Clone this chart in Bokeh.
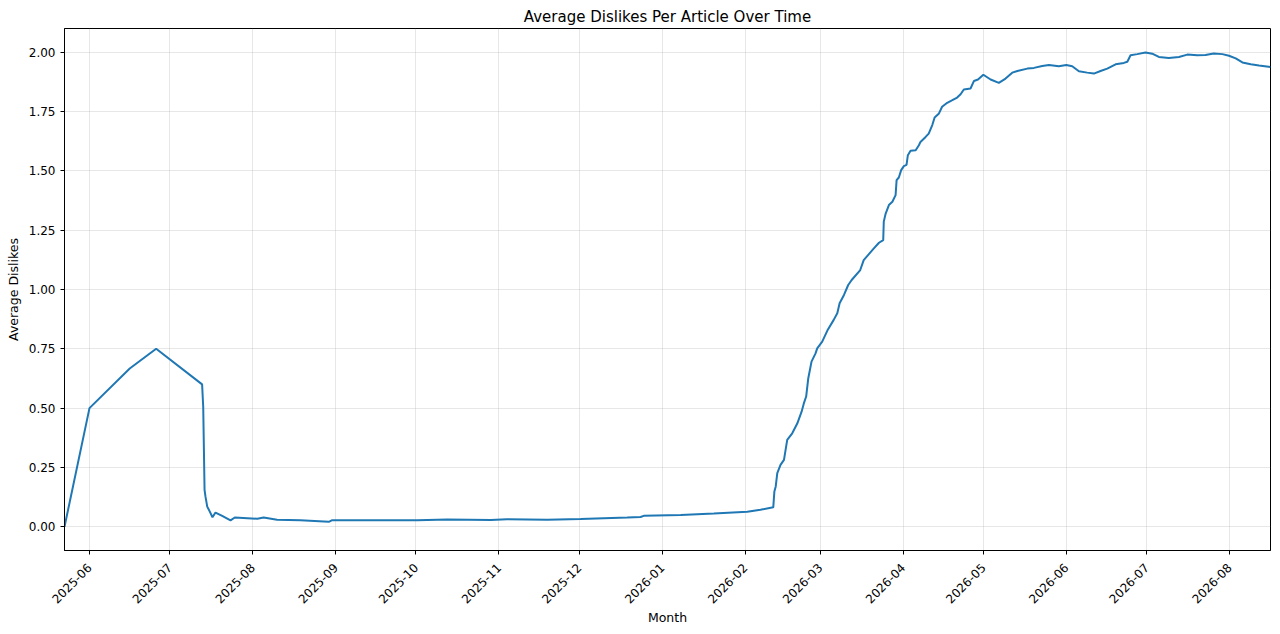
import math
import pandas as pd
from bokeh.plotting import figure
from bokeh.models import FixedTicker, NumeralTickFormatter, DatetimeTickFormatter, Range1d
from bokeh.embed import file_html
from bokeh.resources import INLINE

# ---- data ----
dates = [
    "2025-05-22 16:00", "2025-06-01 00:00", "2025-06-16 01:00", "2025-06-25 22:00",
    "2025-07-13 02:00", "2025-07-13 12:00", "2025-07-14 00:00", "2025-07-14 08:00",
    "2025-07-15 00:00", "2025-07-15 23:00", "2025-07-16 23:00", "2025-07-18 02:00",
    "2025-07-20 14:00", "2025-07-23 17:00", "2025-07-25 07:00", "2025-08-02 17:00",
    "2025-08-05 02:00", "2025-08-10 02:00", "2025-08-18 19:00", "2025-08-29 10:00",
    "2025-08-30 17:00", "2025-09-09 00:00", "2025-09-19 00:00", "2025-10-01 12:00",
    "2025-10-12 17:00", "2025-10-28 22:00", "2025-11-04 00:00", "2025-11-19 00:00",
    "2025-12-01 12:00", "2025-12-18 22:00", "2025-12-23 22:00", "2025-12-25 02:00",
    "2026-01-07 22:00", "2026-01-20 07:00", "2026-02-01 19:00", "2026-02-06 17:00",
    "2026-02-11 12:00", "2026-02-11 22:00", "2026-02-12 10:00", "2026-02-13 00:00",
    "2026-02-14 05:00", "2026-02-15 12:00", "2026-02-16 17:00", "2026-02-18 14:00",
    "2026-02-20 12:00", "2026-02-22 02:00", "2026-02-22 22:00", "2026-02-23 19:00",
    "2026-02-24 14:00", "2026-02-25 19:00", "2026-02-27 07:00", "2026-02-27 22:00",
    "2026-03-01 19:00", "2026-03-03 17:00", "2026-03-06 02:00", "2026-03-07 10:00",
    "2026-03-08 07:00", "2026-03-09 22:00", "2026-03-11 12:00", "2026-03-12 19:00",
    "2026-03-16 00:00", "2026-03-17 07:00", "2026-03-18 14:00", "2026-03-21 02:00",
    "2026-03-23 00:00", "2026-03-24 14:00", "2026-03-24 19:00", "2026-03-25 12:00",
    "2026-03-26 17:00", "2026-03-28 00:00", "2026-03-29 05:00", "2026-03-29 14:00",
    "2026-03-30 10:00", "2026-03-31 07:00", "2026-04-01 07:00", "2026-04-02 07:00",
    "2026-04-02 19:00", "2026-04-03 19:00", "2026-04-05 17:00", "2026-04-06 22:00",
    "2026-04-07 12:00", "2026-04-09 10:00", "2026-04-10 14:00", "2026-04-11 22:00",
    "2026-04-12 19:00", "2026-04-14 10:00", "2026-04-15 14:00", "2026-04-17 12:00",
    "2026-04-19 10:00", "2026-04-21 05:00", "2026-04-22 12:00", "2026-04-23 17:00",
    "2026-04-26 05:00", "2026-04-27 12:00", "2026-04-29 00:00", "2026-05-01 00:00",
    "2026-05-03 17:00", "2026-05-06 19:00", "2026-05-09 07:00", "2026-05-11 19:00",
    "2026-05-13 17:00", "2026-05-17 10:00", "2026-05-19 22:00", "2026-05-23 00:00",
    "2026-05-25 12:00", "2026-05-29 05:00", "2026-06-01 00:00", "2026-06-03 05:00",
    "2026-06-05 17:00", "2026-06-08 19:00", "2026-06-11 07:00", "2026-06-13 19:00",
    "2026-06-16 07:00", "2026-06-19 10:00", "2026-06-22 12:00", "2026-06-23 19:00",
    "2026-06-25 00:00", "2026-06-27 12:00", "2026-06-30 14:00", "2026-07-03 02:00",
    "2026-07-05 14:00", "2026-07-09 07:00", "2026-07-13 02:00", "2026-07-16 05:00",
    "2026-07-19 22:00", "2026-07-23 00:00", "2026-07-26 02:00", "2026-07-29 07:00",
    "2026-07-31 19:00", "2026-08-03 07:00", "2026-08-05 19:00", "2026-08-08 22:00",
    "2026-08-12 00:00", "2026-08-16 07:00",
]
avg_dislikes = [
    0.000, 0.500, 0.667, 0.750,
    0.600, 0.505, 0.156, 0.128,
    0.085, 0.064, 0.040, 0.060,
    0.046, 0.027, 0.039, 0.034,
    0.039, 0.030, 0.027, 0.021,
    0.028, 0.027, 0.028, 0.027,
    0.031, 0.029, 0.032, 0.030,
    0.033, 0.039, 0.041, 0.046,
    0.050, 0.056, 0.063, 0.072,
    0.082, 0.149, 0.170, 0.226,
    0.261, 0.282, 0.366, 0.394,
    0.436, 0.485, 0.520, 0.549,
    0.626, 0.696, 0.731, 0.752,
    0.780, 0.827, 0.872, 0.900,
    0.942, 0.977, 1.019, 1.040,
    1.082, 1.124, 1.141, 1.173,
    1.197, 1.208, 1.286, 1.320,
    1.356, 1.370, 1.398, 1.461,
    1.472, 1.503, 1.520, 1.525,
    1.566, 1.585, 1.587, 1.608,
    1.622, 1.643, 1.657, 1.693,
    1.725, 1.742, 1.770, 1.787,
    1.798, 1.809, 1.823, 1.843,
    1.847, 1.879, 1.885, 1.905,
    1.885, 1.871, 1.889, 1.914,
    1.921, 1.931, 1.934, 1.942,
    1.946, 1.941, 1.946, 1.941,
    1.920, 1.914, 1.910, 1.921,
    1.931, 1.949, 1.955, 1.960,
    1.987, 1.992, 1.999, 1.994,
    1.980, 1.976, 1.980, 1.990,
    1.987, 1.988, 1.995, 1.992,
    1.985, 1.974, 1.957, 1.949,
    1.944, 1.938,
]
month_ticks = [
    "2025-06", "2025-07", "2025-08", "2025-09", "2025-10", "2025-11", "2025-12",
    "2026-01", "2026-02", "2026-03", "2026-04", "2026-05", "2026-06", "2026-07", "2026-08",
]
y_ticks = [0.0, 0.25, 0.5, 0.75, 1.0, 1.25, 1.5, 1.75, 2.0]

FONT = "DejaVu Sans"

x = pd.to_datetime(dates)
tick_ms = [pd.Timestamp(m + "-01").timestamp() * 1000 for m in month_ticks]

p = figure(
    width=1280, height=634,
    x_axis_type="datetime",
    x_range=Range1d(x.min(), x.max()),
    y_range=Range1d(-0.1, 2.1),
    output_backend="svg", toolbar_location=None,
    min_border_left=64, min_border_right=10, min_border_top=28, min_border_bottom=84,
    background_fill_color="white", border_fill_color="white",
)

p.line(x, avg_dislikes, line_color="#1f77b4", line_width=2)

p.title.text = "Average Dislikes Per Article Over Time"
p.title.align = "center"
p.title.text_font = FONT
p.title.text_font_size = "15px"
p.title.text_font_style = "normal"
p.title.text_color = "black"
p.title.standoff = 6

p.outline_line_color = "black"
p.outline_line_alpha = 1.0
p.outline_line_width = 1

p.xaxis.ticker = FixedTicker(ticks=tick_ms)
p.xaxis.formatter = DatetimeTickFormatter(
    years="%Y-%m", months="%Y-%m", days="%Y-%m", hours="%Y-%m",
)
p.xaxis.major_label_orientation = math.pi / 4
p.xaxis.axis_label = "Month"

p.yaxis.ticker = FixedTicker(ticks=y_ticks)
p.yaxis.formatter = NumeralTickFormatter(format="0.00")
p.yaxis.axis_label = "Average Dislikes"

for ax in (p.xaxis, p.yaxis):
    ax.axis_line_color = "black"
    ax.axis_line_width = 1
    ax.major_tick_line_color = "black"
    ax.major_tick_line_width = 1
    ax.major_tick_out = 4
    ax.major_tick_in = 0
    ax.minor_tick_line_color = None
    ax.major_label_text_font = FONT
    ax.major_label_text_font_size = "12px"
    ax.major_label_text_color = "black"
    ax.axis_label_text_font = FONT
    ax.axis_label_text_font_size = "12.5px"
    ax.axis_label_text_font_style = "normal"
    ax.axis_label_text_color = "black"

p.yaxis.major_label_standoff = 5
p.yaxis.axis_label_standoff = 5
p.xaxis.major_label_standoff = 11
p.xaxis.axis_label_standoff = 0

p.xgrid.ticker = FixedTicker(ticks=tick_ms)
p.ygrid.ticker = FixedTicker(ticks=y_ticks)
for g in (p.xgrid, p.ygrid):
    g.grid_line_color = "#b0b0b0"
    g.grid_line_alpha = 0.3
    g.grid_line_width = 1

open("out.html", "w").write(file_html(p, INLINE))
